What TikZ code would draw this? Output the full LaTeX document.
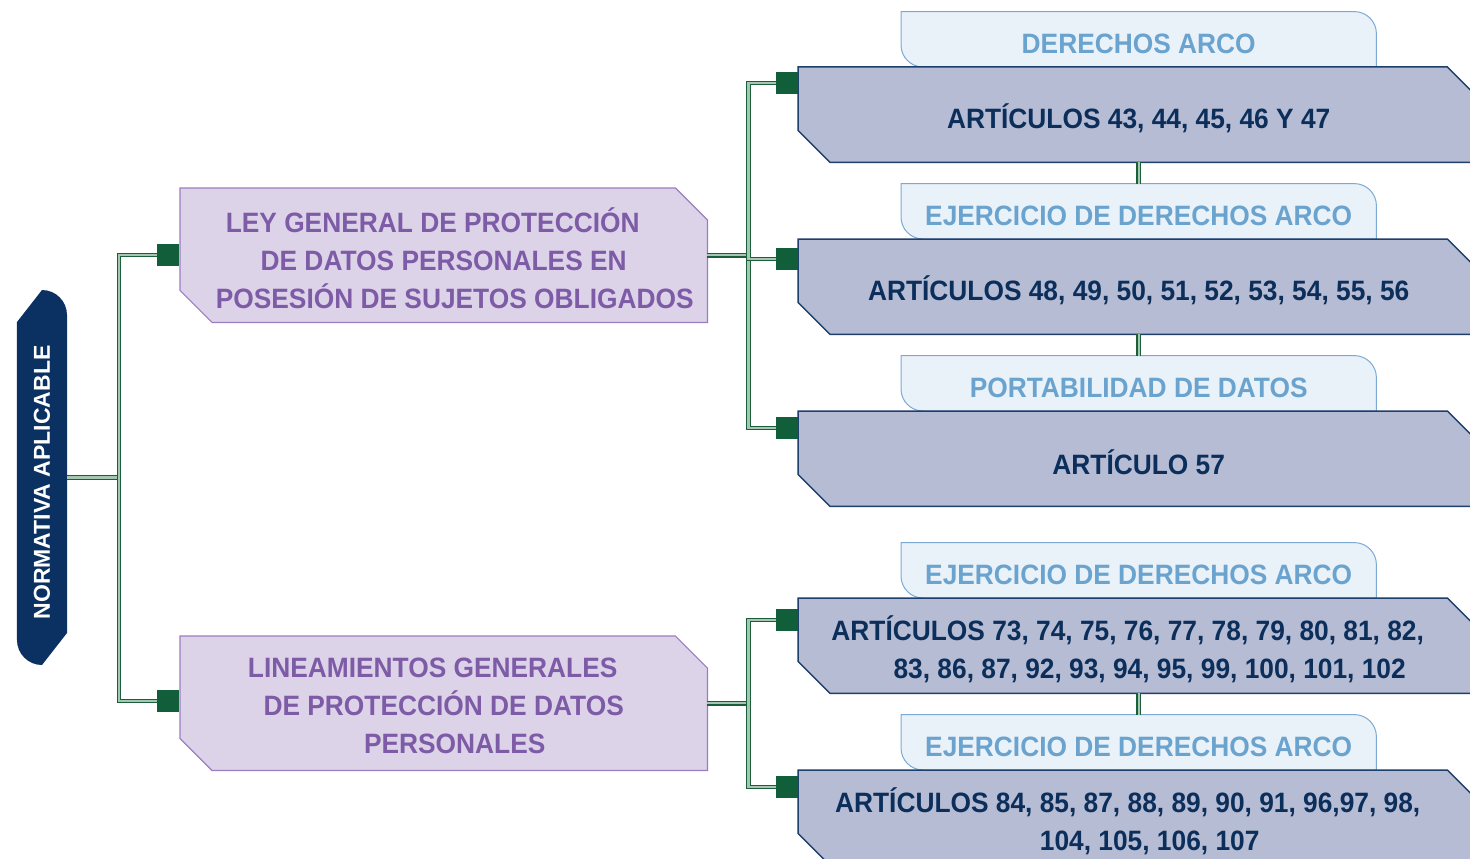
\documentclass[tikz,border=0pt]{standalone}
\usepackage{fontspec}
\newfontfamily\condfont{Liberation Sans}[FakeStretch=0.94]
\newfontfamily\rootfont{Liberation Sans}
\usetikzlibrary{calc,positioning}
\pgfdeclarelayer{background}
\pgfsetlayers{background,main}

\definecolor{rootblue}{HTML}{0A3161}
\definecolor{leyfill}{HTML}{DCD3E9}
\definecolor{leyedge}{HTML}{9A7DC1}
\definecolor{leytext}{HTML}{7D5BA6}
\definecolor{artfill}{HTML}{B6BCD3}
\definecolor{artedge}{HTML}{1E3E6B}
\definecolor{arttext}{HTML}{0B2E5B}
\definecolor{tabfill}{HTML}{E9F1F9}
\definecolor{tabedge}{HTML}{7DAAD5}
\definecolor{tabtext}{HTML}{6BA3CF}
\definecolor{sqgreen}{HTML}{115E3B}
\definecolor{conndark}{HTML}{1B5E3A}
\definecolor{connlight}{HTML}{A3C7B1}

\tikzset{
  conn/.style={draw=conndark, double=connlight, double distance=2.4pt, line width=1.1pt},
  sq/.style={fill=sqgreen, minimum size=22pt, inner sep=0pt},
  bigfont/.style={font=\condfont\bfseries\fontsize{28}{38}\selectfont},
  leybox/.style={minimum width=527pt, minimum height=134pt, inner sep=0pt},
  artbox/.style={minimum width=681pt, minimum height=95pt, inner sep=0pt},
  tabbox/.style={minimum width=475pt, minimum height=55pt, inner sep=0pt},
  leytxt/.style={align=center, text=leytext, bigfont, yshift=-3pt},
  arttxt/.style={align=center, text=arttext, bigfont, yshift=-4pt},
  tabtxt/.style={text=tabtext, bigfont, yshift=-5pt},
  leyshape/.style={fill=leyfill, draw=leyedge, line width=1.2pt},
  artshape/.style={fill=artfill, draw=artedge, line width=1.5pt},
  tabshape/.style={fill=tabfill, draw=tabedge, line width=1pt},
}

% line offsets inside centred texts
\newcommand\lft[1]{#1\hspace*{22pt}}
\newcommand\rgt[1]{\hspace*{22pt}#1}

% box outline: cut corners at north east and south west
\newcommand\chamferpath[2]{%
  \path[#2] (#1.north west) -- ($(#1.north east)+(-32,0)$) -- ($(#1.north east)+(0,32)$)
    -- (#1.south east) -- ($(#1.south west)+(32,0)$) -- ($(#1.south west)+(0,-32)$) -- cycle;}
% tab outline: round corners at south west and north east only
\newcommand\tabpath[1]{%
  \path[tabshape] (#1.north) -- (#1.north west) [rounded corners=22pt] -- (#1.south west)
    [sharp corners] -- (#1.south east) [rounded corners=22pt] -- (#1.north east)
    [sharp corners] -- cycle;}

\begin{document}
\begin{tikzpicture}[x=1pt,y=-1pt]
\useasboundingbox (0,0) rectangle (1470,859);
\clip (0,0) rectangle (1470,859);

% root
\node (root)[minimum width=50pt, minimum height=375pt, inner sep=0pt,
  label={[text=white, yshift=-5pt]center:\rotatebox{90}{\rootfont\bfseries\fontsize{23}{23}\selectfont NORMATIVA APLICABLE}}]
  at (42,477.5) {};

% laws
\node (ley)[leybox, anchor=north west, label={[leytxt]center:{\lft{LEY GENERAL DE PROTECCIÓN}\\DE DATOS PERSONALES EN\\\rgt{POSESIÓN DE SUJETOS OBLIGADOS}}}] at (180,188) {};
\node (lin)[leybox, anchor=north west, label={[leytxt]center:{\lft{LINEAMIENTOS GENERALES}\\DE PROTECCIÓN DE DATOS\\\rgt{PERSONALES}}}] at (180,636) {};
\node (sqA)[sq] at (168,255) {};
\node (sqB)[sq] at (168,701) {};

% articles
\node (a1)[artbox, anchor=north west, label={[arttxt]center:{ARTÍCULOS 43, 44, 45, 46 Y 47}}] at (798,67) {};
\node (a2)[artbox, anchor=north west, label={[arttxt]center:{ARTÍCULOS 48, 49, 50, 51, 52, 53, 54, 55, 56}}] at (798,239) {};
\node (a3)[artbox, anchor=north west, label={[arttxt]center:{ARTÍCULO 57}}] at (798,411) {};
\node (a4)[artbox, anchor=north west, label={[arttxt]center:{\lft{ARTÍCULOS 73, 74, 75, 76, 77, 78, 79, 80, 81, 82,}\\\rgt{83, 86, 87, 92, 93, 94, 95, 99, 100, 101, 102}}}] at (798,598) {};
\node (a5)[artbox, anchor=north west, label={[arttxt]center:{\lft{ARTÍCULOS 84, 85, 87, 88, 89, 90, 91, 96,97, 98,}\\\rgt{104, 105, 106, 107}}}] at (798,770) {};

\node (s1)[sq] at (787,83) {};
\node (s2)[sq] at (787,259) {};
\node (s3)[sq] at (787,428) {};
\node (s4)[sq] at (787,620) {};
\node (s5)[sq] at (787,787) {};

% tabs
\node (t1)[tabbox, above=0pt of a1, label={[tabtxt]center:DERECHOS ARCO}] {};
\node (t2)[tabbox, above=0pt of a2, label={[tabtxt]center:EJERCICIO DE DERECHOS ARCO}] {};
\node (t3)[tabbox, above=0pt of a3, label={[tabtxt]center:PORTABILIDAD DE DATOS}] {};
\node (t4)[tabbox, above=0pt of a4, label={[tabtxt]center:EJERCICIO DE DERECHOS ARCO}] {};
\node (t5)[tabbox, above=0pt of a5, label={[tabtxt]center:EJERCICIO DE DERECHOS ARCO}] {};

% shapes behind the texts
\begin{pgfonlayer}{background}
\fill[rootblue] (root.west) -- (17,322) -- (42,290) [rounded corners=25pt] -- (67,290)
  [sharp corners] -- (67,633) -- (42,665) [rounded corners=25pt] -- (17,665)
  [sharp corners] -- cycle;
\chamferpath{ley}{leyshape}
\chamferpath{lin}{leyshape}
\tabpath{t1} \tabpath{t2} \tabpath{t3} \tabpath{t4} \tabpath{t5}
\chamferpath{a1}{artshape}
\chamferpath{a2}{artshape}
\chamferpath{a3}{artshape}
\chamferpath{a4}{artshape}
\chamferpath{a5}{artshape}
\end{pgfonlayer}

% connectors
\coordinate (j0) at (119,477.5);
\draw[conn] (root.east) -- (j0);
\draw[conn] (sqA.west) -| (j0) |- (sqB.west);

\draw[conn] (ley.east) -- ++(41,0) coordinate (j1);
\draw[conn] (s1.west) -| (j1) |- (s3.west);
\draw[conn] (j1) |- (s2.west);

\draw[conn] (lin.east) -- ++(41,0) coordinate (j2);
\draw[conn] (s4.west) -| (j2) |- (s5.west);

\draw[conn] (a1.south) -- (a1.south |- t2.north);
\draw[conn] (a2.south) -- (a2.south |- t3.north);
\draw[conn] (a4.south) -- (a4.south |- t5.north);

\end{tikzpicture}
\end{document}
